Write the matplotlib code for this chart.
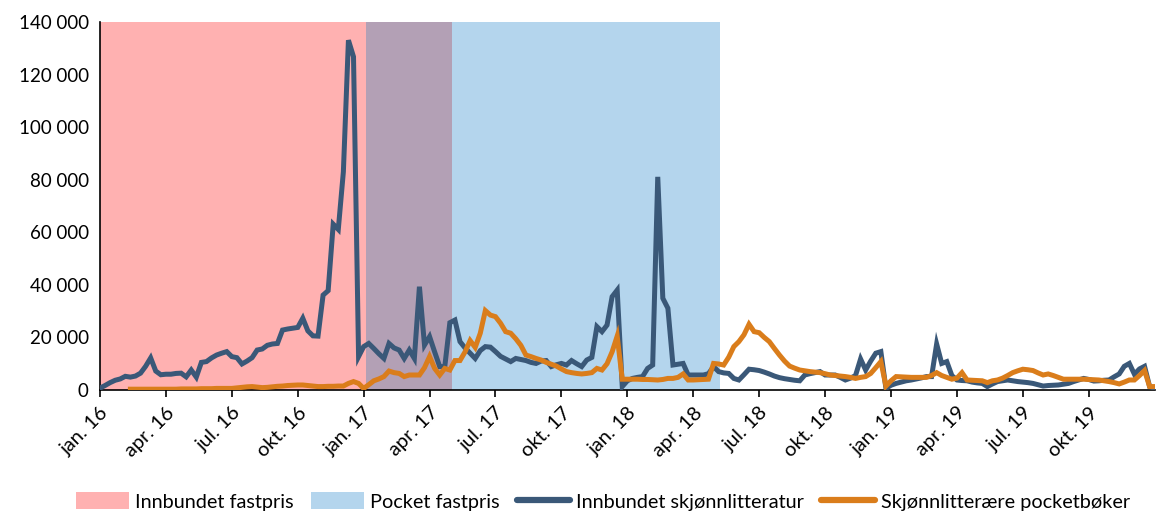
import matplotlib
matplotlib.use("Agg")
import matplotlib.pyplot as plt
from matplotlib.patches import Patch
from matplotlib.lines import Line2D
from matplotlib.ticker import FuncFormatter
import numpy as np

plt.rcParams['font.family'] = ['Lato', 'DejaVu Sans']

# Weekly sales, thousands of copies, week 0 = first week of January 2016
innbundet = [
    0.7, 1.7, 2.8, 3.7, 4.2, 5.2, 4.9, 5.3, 6.4, 9.0,
    12.2, 7.2, 5.8, 6.0, 6.0, 6.3, 6.4, 5.0, 7.6, 4.9,
    10.5, 10.8, 12.2, 13.3, 14.0, 14.6, 12.7, 12.3, 9.9, 11.0,
    12.3, 15.2, 15.6, 17.0, 17.5, 17.7, 22.8, 23.2, 23.5, 23.8,
    27.3, 22.5, 20.6, 20.5, 36.1, 37.8, 63.1, 61.1, 83.0, 133.1,
    126.8, 12.7, 16.5, 17.7, 15.8, 13.8, 12.0, 17.7, 16.0, 15.2,
    12.0, 15.2, 12.0, 39.3, 17.1, 20.3, 14.5, 8.9, 8.9, 25.6,
    26.6, 18.4, 16.0, 14.0, 12.0, 15.0, 16.5, 16.3, 14.6, 12.8,
    11.8, 10.8, 12.0, 11.6, 11.2, 10.5, 10.1, 11.0, 11.2, 8.9,
    9.6, 10.1, 9.5, 11.2, 10.0, 8.9, 11.4, 12.4, 24.1, 22.2,
    24.7, 35.5, 38.0, 1.3, 3.5, 4.4, 4.8, 5.1, 8.2, 9.5,
    81.1, 34.9, 31.1, 9.5, 9.8, 10.1, 5.7, 5.7, 5.7, 5.7,
    6.2, 8.9, 7.0, 6.5, 6.3, 4.4, 3.8, 5.8, 7.9, 7.7,
    7.4, 6.8, 6.1, 5.3, 4.7, 4.3, 4.0, 3.7, 3.5, 5.7,
    6.2, 6.6, 7.0, 5.7, 5.7, 5.7, 4.8, 3.8, 4.5, 5.5,
    11.8, 7.6, 11.0, 14.0, 14.6, 0.6, 1.8, 2.5, 3.0, 3.5,
    3.8, 4.2, 4.6, 5.1, 5.1, 17.5, 10.1, 10.8, 5.5, 3.8,
    3.6, 3.5, 3.0, 2.7, 2.5, 1.3, 2.3, 3.2, 3.5, 3.8,
    3.5, 3.2, 3.0, 2.8, 2.5, 2.0, 1.5, 1.7, 1.8, 1.9,
    2.2, 2.5, 3.2, 3.8, 4.4, 4.0, 3.4, 3.5, 3.7, 3.8,
    5.0, 6.1, 9.0, 10.1, 6.0, 8.0, 9.0, 1.3, 0.6,
]

pocket = [
    None, None, None, None, None, None, 0.3, 0.3, 0.3, 0.3,
    0.3, 0.3, 0.3, 0.3, 0.3, 0.3, 0.4, 0.4, 0.4, 0.4,
    0.5, 0.5, 0.5, 0.6, 0.6, 0.6, 0.6, 0.8, 1.0, 1.2,
    1.3, 1.1, 0.9, 1.0, 1.2, 1.4, 1.5, 1.7, 1.8, 1.9,
    1.9, 1.7, 1.5, 1.3, 1.3, 1.4, 1.4, 1.5, 1.5, 2.5,
    3.2, 2.5, 0.6, 2.0, 3.5, 4.2, 5.1, 7.2, 6.6, 6.3,
    5.1, 5.7, 5.7, 5.7, 8.5, 12.7, 8.2, 5.7, 8.2, 7.6,
    11.2, 11.2, 14.5, 18.8, 16.2, 21.6, 30.2, 28.5, 27.9, 25.4,
    22.2, 21.6, 19.5, 17.0, 13.3, 12.7, 12.0, 11.4, 10.5, 9.8,
    9.1, 8.0, 7.0, 6.6, 6.3, 6.1, 6.3, 6.6, 8.2, 7.6,
    10.0, 14.5, 20.5, 4.1, 4.1, 4.1, 4.1, 4.0, 4.0, 3.9,
    3.8, 4.0, 4.4, 4.4, 4.8, 6.1, 3.8, 3.8, 3.9, 4.0,
    4.1, 10.1, 9.9, 9.5, 12.5, 16.5, 18.4, 21.0, 25.0, 22.2,
    21.8, 20.0, 18.4, 15.8, 13.3, 11.0, 9.1, 8.3, 7.6, 7.3,
    7.0, 6.8, 6.6, 6.2, 5.7, 5.5, 5.3, 5.1, 4.8, 4.4,
    4.8, 5.1, 6.3, 8.5, 10.8, 1.5, 3.5, 5.1, 5.0, 4.9,
    4.8, 4.8, 4.8, 4.8, 5.5, 6.6, 5.5, 4.8, 4.1, 4.5,
    6.6, 3.8, 3.7, 3.6, 3.5, 2.8, 3.5, 3.8, 4.5, 5.5,
    6.6, 7.3, 7.9, 7.7, 7.4, 6.5, 5.7, 6.1, 5.5, 4.8,
    4.1, 4.1, 4.1, 4.1, 4.1, 4.0, 3.9, 3.8, 3.5, 3.2,
    2.8, 2.3, 3.0, 3.8, 3.8, 5.5, 7.4, 1.3, 1.3,
]

tick_labels = ["jan. 16", "apr. 16", "jul. 16", "okt. 16",
               "jan. 17", "apr. 17", "jul. 17", "okt. 17",
               "jan. 18", "apr. 18", "jul. 18", "okt. 18",
               "jan. 19", "apr. 19", "jul. 19", "okt. 19"]

# Fixed-price periods, in weeks from start
innbundet_period = (0, 69.4)
pocket_period = (52.5, 122.2)

weeks = np.arange(len(innbundet))
inn = np.array(innbundet, dtype=float) * 1000
poc = np.array([np.nan if v is None else v for v in pocket], dtype=float) * 1000

pink = "#FFB1B1"
lightblue = "#B4D5ED"
overlap = "#B3A0B5"
navy = "#3A5878"
orange = "#DA7D1B"

fig = plt.figure(figsize=(11.57, 5.13), dpi=100)
ax = fig.add_axes([0.0864, 0.2398, 0.9116, 0.7172])

ax.axvspan(*innbundet_period, color=pink, lw=0, zorder=0)
ax.axvspan(*pocket_period, color=lightblue, lw=0, zorder=0)
ax.axvspan(pocket_period[0], innbundet_period[1], color=overlap, lw=0, zorder=0.5)

ax.plot(weeks, inn, color=navy, lw=3.6, solid_joinstyle='miter', zorder=3)
ax.plot(weeks, poc, color=orange, lw=3.6, solid_joinstyle='miter', zorder=4)

ax.set_xlim(0, 208)
ax.set_ylim(0, 140000)
ax.set_yticks(np.arange(0, 140001, 20000))
ax.yaxis.set_major_formatter(FuncFormatter(lambda v, p: f"{int(v):,}".replace(",", " ")))
ax.set_xticks(np.arange(0, 208, 13))
ax.set_xticklabels(tick_labels, rotation=45, ha='right', rotation_mode='anchor')

for s in ['top', 'right']:
    ax.spines[s].set_visible(False)
ax.spines['left'].set_linewidth(1.2)
ax.spines['bottom'].set_linewidth(1.2)
ax.tick_params(axis='y', length=0, labelsize=13.5, pad=8)
ax.tick_params(axis='x', length=5, width=1.2, direction='out', labelsize=14.5, pad=5)

handles = [
    Patch(facecolor=pink, edgecolor='none', label="Innbundet fastpris"),
    Patch(facecolor=lightblue, edgecolor='none', label="Pocket fastpris"),
    Line2D([], [], color=navy, lw=4.5, solid_capstyle='round', label="Innbundet skjønnlitteratur"),
    Line2D([], [], color=orange, lw=4.5, solid_capstyle='round', label="Skjønnlitterære pocketbøker"),
]
fig.legend(handles=handles, loc='lower center', bbox_to_anchor=(0.521, -0.03), ncol=4,
           frameon=False, fontsize=14.3, handlelength=2.7, handleheight=0.9,
           handletextpad=0.3, columnspacing=0.85)

fig.savefig("out.png", dpi=100)
